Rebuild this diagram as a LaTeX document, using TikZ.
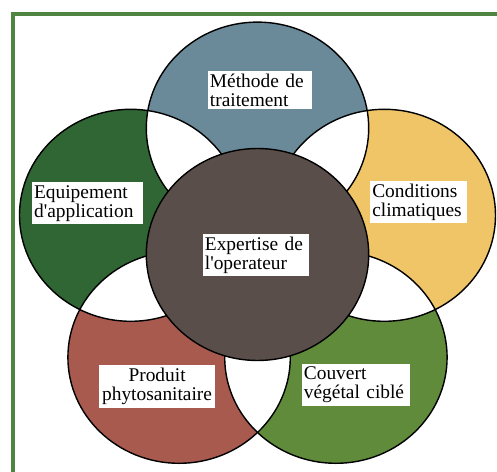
\documentclass[tikz,border=0pt]{standalone}
\usepackage{fontspec}
\setmainfont{Liberation Serif}
\usetikzlibrary{positioning}

\definecolor{framegreen}{HTML}{4E8542}
\definecolor{petalblue}{HTML}{6A8A9A}
\definecolor{petalgreen}{HTML}{2F6634}
\definecolor{petalyellow}{HTML}{F0C567}
\definecolor{petalred}{HTML}{A85A4E}
\definecolor{petalolive}{HTML}{5F8B3B}
\definecolor{coregray}{HTML}{594E49}

\begin{document}
\begin{tikzpicture}[
		disc/.style={
			x radius=2.78cm,
			y radius=2.65cm
		},
		outline/.style={
			disc,
			draw=black,
			line width=1pt
		},
		txtbox/.style={
			fill=white,
			inner xsep=1.5pt,
			inner ysep=2pt,
			align=left,
			font=\fontsize{13.8}{13.6}\selectfont
		}
		]
		
		\useasboundingbox (-6.4375,-5.4125) rectangle (5.9875,6.3625);
		
		%--------------------------------------------------
		% Frame
		%--------------------------------------------------
		
		\draw[framegreen,line width=0.1cm] (-6.11,-7) rectangle (7,6.02);
		
		%--------------------------------------------------
		% Centres
		%--------------------------------------------------
		
		\coordinate (ctr) at (0,0);
		\coordinate (ptop) at (0,3.16);
		\coordinate (pleft) at (-3.17,0.98);
		\coordinate (pright) at (3.17,0.98);
		\coordinate (pbl) at (-1.96,-2.57);
		\coordinate (pbr) at (1.96,-2.57);
		
		%--------------------------------------------------
		% Outer petals
		%--------------------------------------------------
		
		\fill[disc,petalblue] (ptop) circle;
		\fill[disc,petalgreen] (pleft) circle;
		\fill[disc,petalyellow] (pright) circle;
		\fill[disc,petalred] (pbl) circle;
		\fill[disc,petalolive] (pbr) circle;
		
		% white overlaps between neighbours
		\begin{scope}
			\clip[disc] (ptop) circle;
			\fill[disc,white] (pleft) circle;
			\fill[disc,white] (pright) circle;
		\end{scope}
		\begin{scope}
			\clip[disc] (pbl) circle;
			\fill[disc,white] (pleft) circle;
			\fill[disc,white] (pbr) circle;
		\end{scope}
		\begin{scope}
			\clip[disc] (pbr) circle;
			\fill[disc,white] (pright) circle;
		\end{scope}
		
		\draw[outline] (ptop) circle;
		\draw[outline] (pleft) circle;
		\draw[outline] (pright) circle;
		\draw[outline] (pbl) circle;
		\draw[outline] (pbr) circle;
		
		% centre disc on top
		\fill[disc,coregray] (ctr) circle;
		\draw[outline] (ctr) circle;
		
		%--------------------------------------------------
		% Labels
		%--------------------------------------------------
		
		\node[txtbox,text width=2.5cm] (methode) at (0.06,4.11)
		{Méthode de\\traitement};
		
		\node[txtbox,text width=2.67cm] (equipement) at (-4.25,1.28)
		{Equipement\\d\textquotesingle application};
		
		\node[txtbox,text width=2.32cm] (conditions) at (4.03,1.31)
		{Conditions\\climatiques};
		
		\node[txtbox,text width=2.55cm] (expertise) at (-0.04,-0.01)
		{Expertise de\\l\textquotesingle operateur};
		
		\node[txtbox,text width=2.78cm,align=center] (produit) at (-2.51,-3.3)
		{Produit\\phytosanitaire};
		
		\node[txtbox,text width=2.6cm] (couvert) at (2.46,-3.26)
		{Couvert\\végétal ciblé};
		
	\end{tikzpicture}
\end{document}
